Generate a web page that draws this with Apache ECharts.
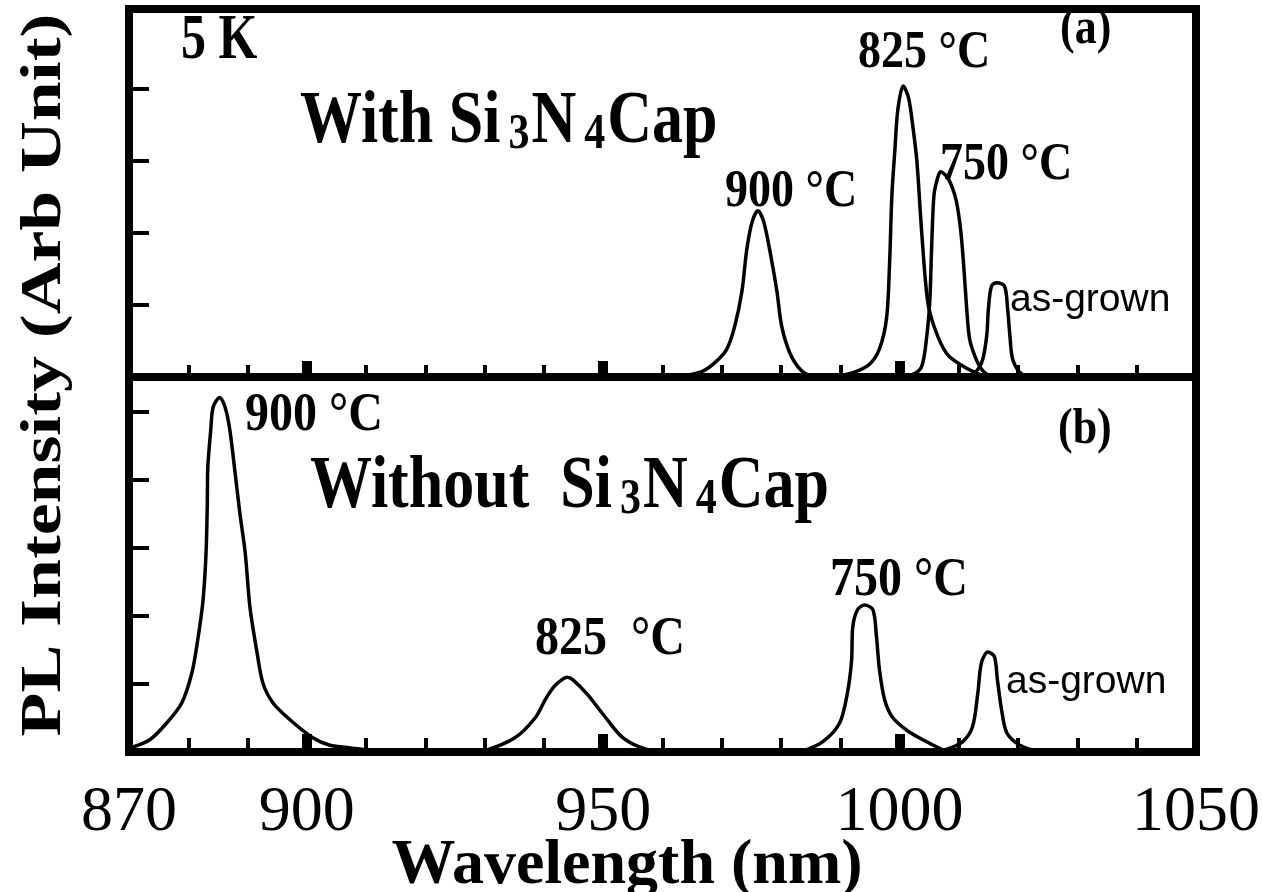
<!DOCTYPE html>
<html style="height: 100%">
<head>
<meta charset="utf-8">
<title>PL Intensity</title>
<script src="https://cdn.jsdelivr.net/npm/echarts@6/dist/echarts.min.js"></script>
</head>
<body style="height: 100%; margin: 0; background: #fff">
<div id="container" style="width: 1262px; height: 892px"></div>
<script>
// tick positions (nm) and labels
var minorTicks = [880, 890, 900, 910, 920, 930, 940, 950, 960, 970, 980, 990, 1000, 1010, 1020, 1030, 1040];
var majorTicks = [900, 950, 1000];
var xLabels = [870, 900, 950, 1000, 1050];
var topYTicks = [1, 2, 3, 4];
var botYTicks = [1, 2, 3, 4, 5];

// (a) with Si3N4 cap : [wavelength nm, intensity]
var top900 = [[960.0,0],[962.9,0.01],[966.5,0.07],[968.7,0.19],[970.8,0.38],[972.2,0.71],[973.4,1.19],[974.2,1.76],[975.1,2.15],[976.1,2.31],[977.1,2.15],[978.3,1.67],[979.3,1.19],[980.1,0.71],[981.5,0.33],[983.3,0.10],[985.3,0.01],[988.0,0]];
var top825 = [[986.9,0],[991.2,0.04],[994.8,0.17],[996.6,0.39],[997.8,0.82],[998.3,1.56],[998.7,2.53],[999.2,3.15],[999.7,3.71],[1000.6,4.04],[1001.5,3.88],[1002.2,3.50],[1002.9,3.01],[1003.7,2.04],[1004.7,1.07],[1005.9,0.68],[1007.9,0.33],[1010.3,0.17],[1013.8,0.03],[1016.9,0]];
var top750 = [[999.0,0],[1002.0,0.03],[1003.7,0.14],[1004.6,0.58],[1005.1,1.07],[1005.4,1.79],[1005.8,2.53],[1006.4,2.76],[1006.9,2.85],[1007.9,2.79],[1008.8,2.65],[1009.6,2.43],[1010.3,2.04],[1010.8,1.56],[1011.3,0.97],[1011.8,0.53],[1012.7,0.29],[1013.8,0.11],[1015.5,0.01],[1017.9,0]];
var topAsGrown = [[1010.8,0],[1012.8,0.07],[1014.0,0.24],[1014.7,0.58],[1015.0,0.97],[1015.5,1.26],[1016.4,1.31],[1017.7,1.26],[1018.2,0.97],[1018.6,0.58],[1019.1,0.24],[1020.6,0.04],[1022.6,0]];

// (b) without Si3N4 cap
var bot900 = [[870.2,0.06],[873.5,0.18],[876.4,0.43],[878.9,0.72],[880.6,1.16],[881.6,1.65],[882.5,2.24],[883.0,2.93],[883.2,3.60],[883.3,4.19],[883.8,4.74],[884.2,5.07],[885.3,5.21],[886.2,5.07],[887.0,4.74],[887.9,4.10],[888.7,3.51],[889.6,2.93],[890.4,2.13],[891.6,1.46],[892.6,1.01],[894.3,0.72],[897.2,0.47],[901.0,0.21],[903.9,0.10],[907.3,0.06],[910.6,0.03]];
var bot825 = [[927.5,0],[930.0,0.02],[935.1,0.21],[938.5,0.50],[940.3,0.78],[941.8,0.97],[943.0,1.06],[943.9,1.10],[944.9,1.06],[947.4,0.84],[950.1,0.54],[953.3,0.21],[957.2,0.04],[961.1,0]];
var bot750 = [[983.2,0],[987.0,0.15],[989.9,0.43],[991.2,0.87],[991.9,1.35],[992.1,1.84],[992.9,2.09],[994.1,2.16],[995.5,2.09],[996.1,1.69],[996.6,1.21],[997.5,0.76],[998.8,0.51],[1001.2,0.32],[1003.9,0.18],[1007.3,0.03]];
var botAsGrown = [[1007.6,0.03],[1010.6,0.15],[1012.3,0.37],[1013.2,0.87],[1013.8,1.31],[1014.9,1.47],[1016.0,1.40],[1016.5,1.06],[1017.2,0.62],[1018.1,0.28],[1020.3,0.10],[1023.6,0]];

var serif = '"Liberation Serif", "Times New Roman", serif';
var sans = '"Liberation Sans", Arial, sans-serif';

function xAx(grid, ticks, len, w, labels) {
	return {
		gridIndex: grid, type: 'value', min: 870, max: 1050, position: 'bottom',
		axisLine: {show: false}, splitLine: {show: false},
		axisTick: {show: true, inside: true, length: len, customValues: ticks, lineStyle: {color: '#000', width: w}},
		axisLabel: labels ? {
			show: true, customValues: labels, color: '#000', fontFamily: serif, fontSize: 64, margin: 29,
			formatter: function (v) { return String(v); }
		} : {show: false}
	};
}
function yAx(grid, max, ticks) {
	return {
		gridIndex: grid, type: 'value', min: 0, max: max,
		axisLine: {show: false}, splitLine: {show: false}, axisLabel: {show: false},
		axisTick: {show: true, inside: true, length: 20, customValues: ticks, lineStyle: {color: '#000', width: 4}}
	};
}
function curve(data, xi, yi) {
	return {
		type: 'line', data: data, xAxisIndex: xi, yAxisIndex: yi,
		symbol: 'none', smooth: 0.3, silent: true,
		lineStyle: {color: '#000', width: 3.5}
	};
}
function txt(str, x, y, size, sy, font, weight) {
	return {
		type: 'text', x: x, y: y, scaleY: sy, z: 100,
		style: {text: str, fill: '#000', fontFamily: font || serif, fontWeight: weight || 'bold', fontSize: size, align: 'left', verticalAlign: 'middle'}
	};
}
function capText(prefix, x, y) {
	return {
		type: 'text', x: x, y: y, scaleY: 1.2, z: 100,
		style: {
			text: '{m|' + prefix + 'Si}{s|3}{m|N}{s|4}{m|Cap}', fill: '#000', align: 'left', verticalAlign: 'middle',
			rich: {
				m: {fontFamily: serif, fontWeight: 'bold', fontSize: 62, fill: '#000'},
				s: {fontFamily: serif, fontWeight: 'bold', fontSize: 42, fill: '#000', padding: [0, 2, 0, 8], verticalAlign: 'bottom'}
			}
		}
	};
}

var dom = document.getElementById('container');
var myChart = echarts.init(dom);
var option = {
	animation: false,
	backgroundColor: '#fff',
	grid: [
		{left: 129, top: 9, width: 1067, height: 368, show: true, borderColor: '#000', borderWidth: 8, outerBoundsMode: 'none'},
		{left: 129, top: 377, width: 1067, height: 375, show: true, borderColor: '#000', borderWidth: 8, outerBoundsMode: 'none'}
	],
	xAxis: [
		xAx(0, minorTicks, 12, 4),
		xAx(0, majorTicks, 16, 10),
		xAx(1, minorTicks, 14, 4, xLabels),
		xAx(1, majorTicks, 18, 10)
	],
	yAxis: [yAx(0, 5.11, topYTicks), yAx(1, 5.51, botYTicks)],
	series: [
		curve(top900, 0, 0), curve(top825, 0, 0), curve(top750, 0, 0), curve(topAsGrown, 0, 0),
		curve(bot900, 2, 1), curve(bot825, 2, 1), curve(bot750, 2, 1), curve(botAsGrown, 2, 1)
	],
	graphic: [
		txt('5 K', 181, 42, 50, 1.25),
		capText('With ', 300, 123),
		capText('Without  ', 310, 488),
		txt('825 °C', 858, 53, 46, 1.15),
		txt('750 °C', 940, 165, 46, 1.15),
		txt('900 °C', 725, 192, 46, 1.15),
		txt('as-grown', 1010, 300, 39, 1.0, sans, 'normal'),
		txt('(a)', 1060, 30, 44, 1.15),
		txt('900 °C', 245, 416, 48, 1.15),
		txt('(b)', 1058, 430, 44, 1.15),
		txt('825  °C', 535, 640, 48, 1.15),
		txt('750 °C', 830, 581, 48, 1.15),
		txt('as-grown', 1006, 682, 39, 1.0, sans, 'normal'),
		{
			type: 'text', x: 627, y: 866, scaleY: 1.0, z: 100,
			style: {text: 'Wavelength (nm)', fill: '#000', fontFamily: serif, fontWeight: 'bold', fontSize: 64, align: 'center', verticalAlign: 'middle'}
		},
		{
			type: 'text', x: 46, y: 375, rotation: Math.PI / 2, scaleX: 1.28, z: 100,
			style: {text: 'PL Intensity (Arb Unit)', fill: '#000', fontFamily: serif, fontWeight: 'bold', fontSize: 56, align: 'center', verticalAlign: 'middle'}
		}
	]
};
myChart.setOption(option);
</script>
</body>
</html>
